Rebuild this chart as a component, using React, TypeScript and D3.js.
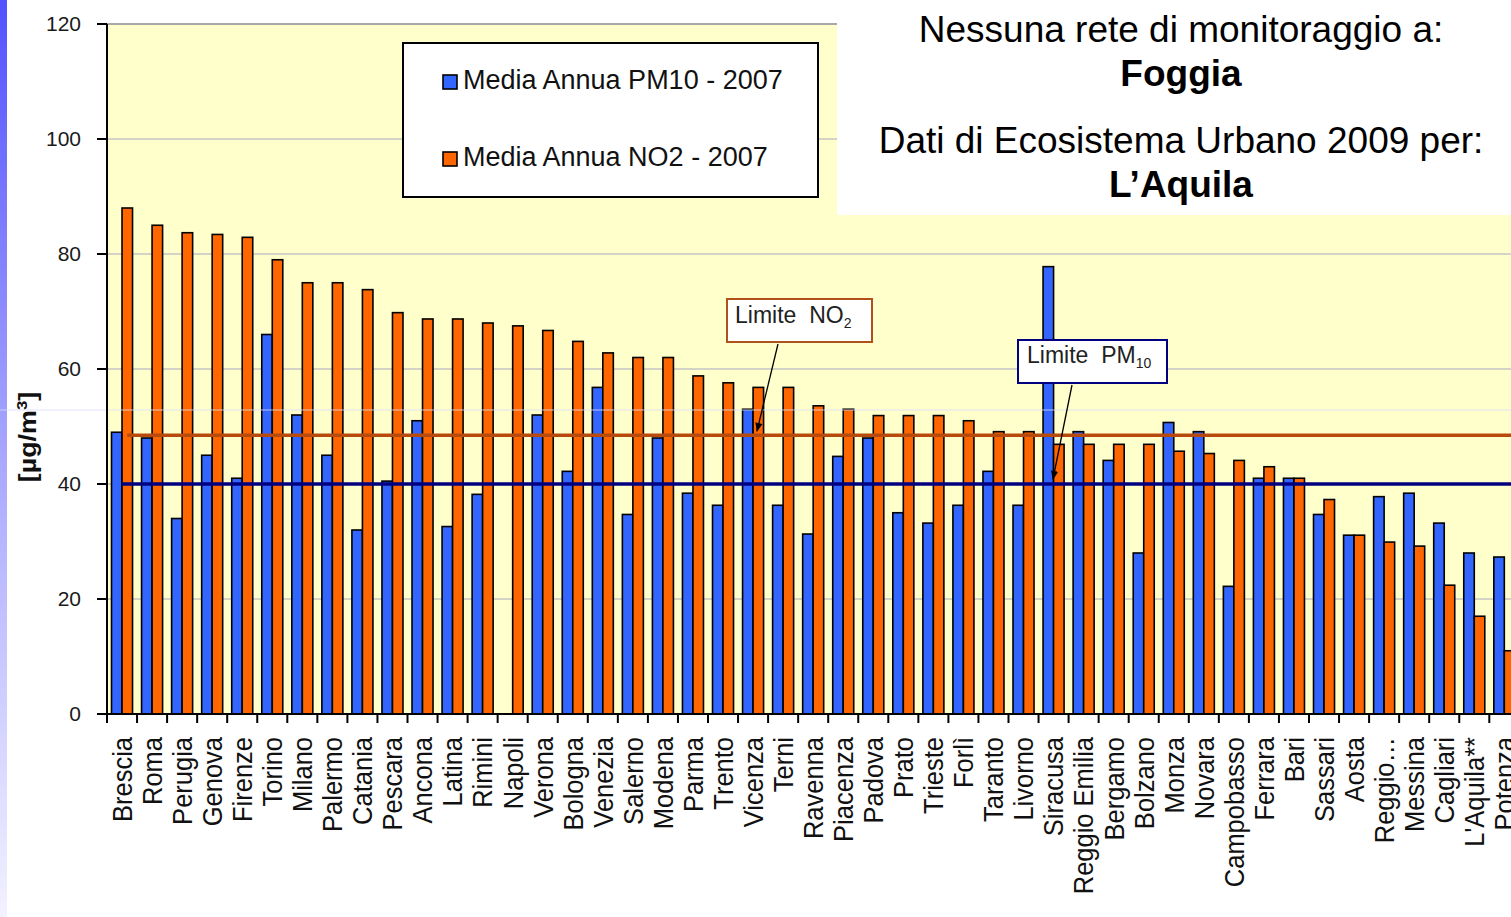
import React from "react";
import * as d3 from "d3";

const cities = [
  "Brescia", "Roma", "Perugia", "Genova", "Firenze", "Torino", "Milano", "Palermo",
  "Catania", "Pescara", "Ancona", "Latina", "Rimini", "Napoli", "Verona", "Bologna",
  "Venezia", "Salerno", "Modena", "Parma", "Trento", "Vicenza", "Terni", "Ravenna",
  "Piacenza", "Padova", "Prato", "Trieste", "Forlì", "Taranto", "Livorno", "Siracusa",
  "Reggio Emilia", "Bergamo", "Bolzano", "Monza", "Novara", "Campobasso", "Ferrara",
  "Bari", "Sassari", "Aosta", "Reggio…", "Messina", "Cagliari", "L'Aquila**", "Potenza",
];

const pm10: (number | null)[] = [
  49, 48, 34, 45, 41, 66, 52, 45,
  32, 40.5, 51, 32.6, 38.2, null, 52, 42.2,
  56.8, 34.7, 48, 38.4, 36.3, 53, 36.3, 31.3,
  44.8, 48, 35, 33.2, 36.3, 42.2, 36.3, 77.8,
  49.1, 44.1, 28, 50.7, 49.1, 22.2, 41,
  41, 34.7, 31.1, 37.8, 38.4, 33.2, 28, 27.3,
];

const no2: (number | null)[] = [
  88, 85, 83.7, 83.4, 82.9, 79, 75, 75,
  73.8, 69.8, 68.7, 68.7, 68, 67.5, 66.7, 64.8,
  62.8, 62, 62, 58.8, 57.6, 56.8, 56.8, 53.6,
  53, 51.9, 51.9, 51.9, 51, 49.1, 49.1, 46.9,
  46.9, 46.9, 46.9, 45.7, 45.3, 44.1, 43,
  41, 37.3, 31.1, 29.9, 29.2, 22.4, 17, 11,
];

const yTicks = [0, 20, 40, 60, 80, 100, 120];
const limitNO2 = 48.5;
const limitPM10 = 40;

const seriesKeys = ["pm10", "no2"];
const seriesColors: Record<string, string> = { pm10: "#3366FF", no2: "#FF6600" };
const legendLabels = ["Media Annua PM10 - 2007", "Media Annua NO2 - 2007"];

const W = 1511;
const H = 917;
const FONT = "'Liberation Sans', Arial, sans-serif";

export default function App() {
  const left = 107;
  const top = 24;
  const bottom = 714;
  const right = left + cities.length * 30.05;

  const x = d3.scaleBand<string>().domain(cities).range([left, right]).padding(0);
  const xs = d3
    .scaleBand<string>()
    .domain(seriesKeys)
    .range([0, x.bandwidth()])
    .paddingInner(0)
    .paddingOuter(0.43);
  const y = d3.scaleLinear().domain([0, 120]).range([bottom, top]);

  const data: Record<string, (number | null)[]> = { pm10, no2 };

  const boundaries = cities.map((c) => x(c)!).concat([right]);

  return (
    <svg
      width={W}
      height={H}
      style={{ position: "fixed", left: 0, top: 0, background: "#fff" }}
      fontFamily={FONT}
    >
      <defs>
        <linearGradient id="stripe" x1="0" y1="0" x2="0" y2="1">
          <stop offset="0" stopColor="#5252FF" />
          <stop offset="0.5" stopColor="#A8A8FF" />
          <stop offset="1" stopColor="#F2F2FF" />
        </linearGradient>
        <marker id="arr" viewBox="0 0 10 10" refX="9" refY="5" markerWidth="7" markerHeight="7" orient="auto">
          <path d="M0,1 L10,5 L0,9 Z" fill="#000" />
        </marker>
      </defs>
      <rect x={0} y={0} width={W} height={H} fill="#fff" />
      <rect x={0} y={0} width={7} height={H} fill="url(#stripe)" />

      {/* plot background */}
      <rect x={left} y={top} width={right - left} height={bottom - top} fill="#FFFFCC" />

      {/* gridlines */}
      {yTicks.filter((t) => t > 0).map((t) => (
        <line key={t} x1={left} x2={right} y1={y(t)} y2={y(t)} stroke={t === 120 ? "#A8A8A8" : "#C4C4C4"} strokeWidth={t === 120 ? 2 : 1.5} />
      ))}

      {/* bars */}
      {cities.map((c) =>
        seriesKeys.map((k) => {
          const v = data[k][cities.indexOf(c)];
          if (v == null) return null;
          return (
            <rect
              key={c + k}
              x={x(c)! + xs(k)!}
              y={y(v)}
              width={xs.bandwidth()}
              height={y(0) - y(v)}
              fill={seriesColors[k]}
              stroke="#000"
              strokeWidth={1.6}
            />
          );
        })
      )}

      {/* limit lines */}
      <line x1={x(cities[0])! + xs("no2")! + xs.bandwidth() / 2} x2={W + 20} y1={y(limitNO2)} y2={y(limitNO2)} stroke="#B84A0E" strokeWidth={3.5} />
      <line x1={x(cities[0])! + xs("no2")!} x2={W + 20} y1={y(limitPM10)} y2={y(limitPM10)} stroke="#000080" strokeWidth={3.5} />

      {/* faint slide line */}
      <line x1={0} x2={W} y1={410} y2={410} stroke="#DCDCFF" strokeWidth={1} opacity={0.8} />

      {/* axes */}
      <line x1={left} x2={left} y1={top} y2={bottom} stroke="#000" strokeWidth={2} />
      <line x1={left} x2={right} y1={bottom} y2={bottom} stroke="#000" strokeWidth={2} />
      {yTicks.map((t) => (
        <g key={t}>
          <line x1={left - 10} x2={left} y1={y(t)} y2={y(t)} stroke="#000" strokeWidth={2} />
          <text x={81} y={y(t)} dy="0.35em" textAnchor="end" fontSize={21} fill="#1a1a1a">
            {t}
          </text>
        </g>
      ))}
      {boundaries.map((b, i) => (
        <line key={i} x1={b} x2={b} y1={bottom} y2={bottom + 9} stroke="#000" strokeWidth={2} />
      ))}
      {cities.map((c) => (
        <text
          key={c}
          transform={`translate(${x(c)! + x.bandwidth() / 2},${737}) rotate(-90) scale(1,1.1)`}
          dy="0.35em"
          textAnchor="end"
          fontSize={25.5}
          fill="#111"
        >
          {c}
        </text>
      ))}

      {/* y axis title */}
      <text transform="translate(28,437) rotate(-90) scale(1.12,1)" textAnchor="middle" dy="0.35em" fontSize={24} fontWeight="bold" fill="#111">
        [µg/m<tspan fontSize={15} dy="-9">3</tspan>
        <tspan dy="9">]</tspan>
      </text>

      {/* legend */}
      <rect x={403} y={43} width={415} height={154} fill="#fff" stroke="#000" strokeWidth={2} />
      {seriesKeys.map((k, i) => (
        <g key={k}>
          <rect x={443} y={75 + i * 77} width={14} height={14} fill={seriesColors[k]} stroke="#000" strokeWidth={1.6} />
          <text x={463} y={89 + i * 77} fontSize={27} fill="#111">
            {legendLabels[i]}
          </text>
        </g>
      ))}

      {/* limit annotations */}
      <rect x={727} y={299} width={145} height={43} fill="#fff" stroke="#B0501A" strokeWidth={2} />
      <text x={735} y={323} fontSize={23} fill="#222" style={{ whiteSpace: "pre" }}>
        {"Limite  NO"}
        <tspan fontSize={14} dy="5">2</tspan>
      </text>
      <line x1={778} y1={344} x2={757} y2={431} stroke="#000" strokeWidth={1.3} markerEnd="url(#arr)" />

      <rect x={1018} y={340} width={149} height={43} fill="#fff" stroke="#000080" strokeWidth={2} />
      <text x={1027} y={363} fontSize={23} fill="#222" style={{ whiteSpace: "pre" }}>
        {"Limite  PM"}
        <tspan fontSize={14} dy="5">10</tspan>
      </text>
      <line x1={1072} y1={385} x2={1053} y2={479} stroke="#000" strokeWidth={1.3} markerEnd="url(#arr)" />

      {/* top-right note */}
      <rect x={837} y={0} width={W - 837 + 10} height={215} fill="#fff" />
      <text x={1181} y={42} textAnchor="middle" fontSize={37} fill="#000">
        Nessuna rete di monitoraggio a:
      </text>
      <text x={1181} y={86} textAnchor="middle" fontSize={37} fontWeight="bold" fill="#000">
        Foggia
      </text>
      <text x={1181} y={153} textAnchor="middle" fontSize={37} fill="#000">
        Dati di Ecosistema Urbano 2009 per:
      </text>
      <text x={1181} y={197} textAnchor="middle" fontSize={37} fontWeight="bold" fill="#000">
        L’Aquila
      </text>
    </svg>
  );
}
